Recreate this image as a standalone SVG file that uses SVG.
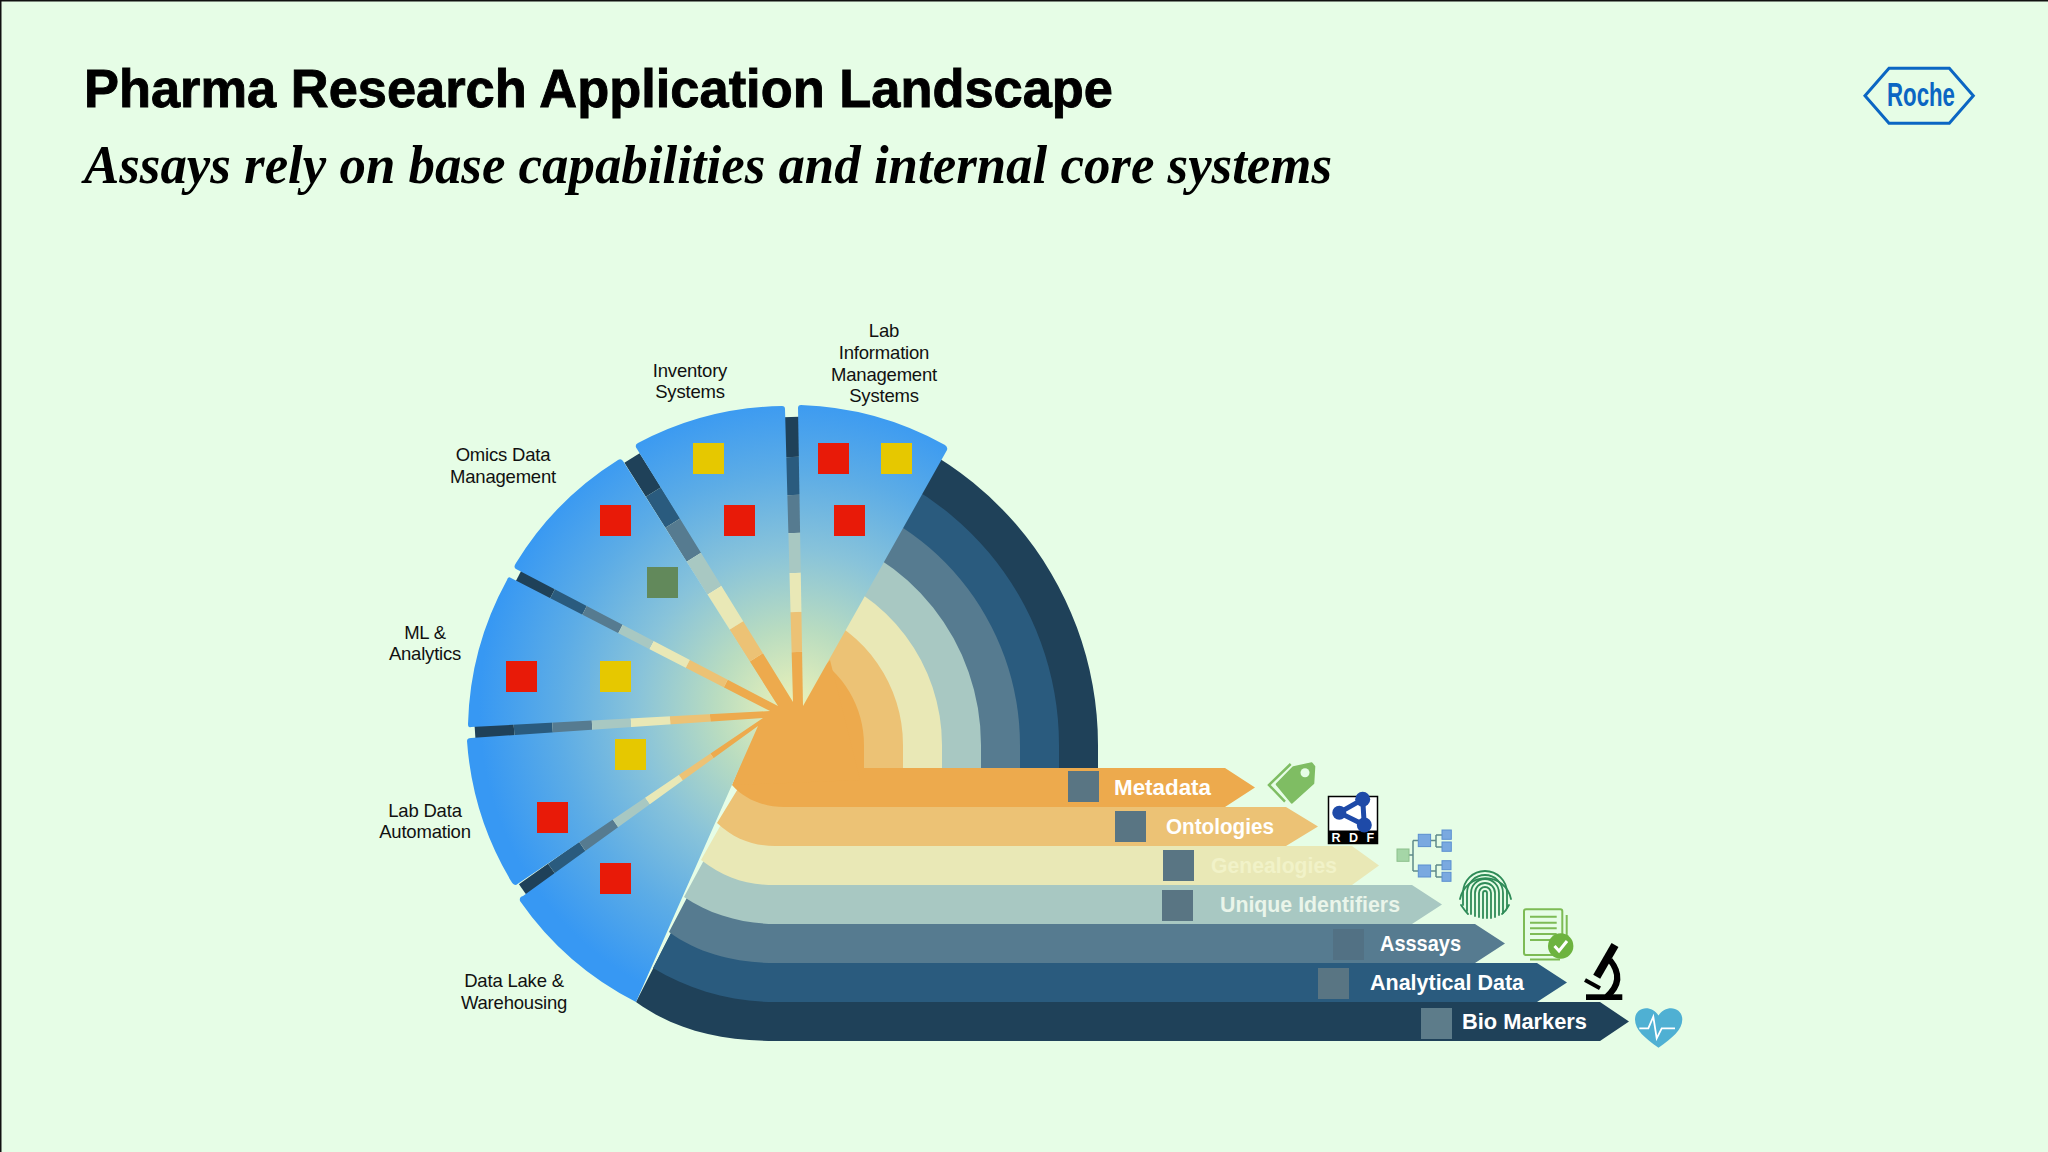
<svg xmlns="http://www.w3.org/2000/svg" width="2048" height="1152" viewBox="0 0 2048 1152">
<defs>
<radialGradient id="wg" gradientUnits="userSpaceOnUse" cx="795" cy="708" r="316">
<stop offset="0" stop-color="#eef3b8"/><stop offset="0.25" stop-color="#b9dcc0"/><stop offset="0.5" stop-color="#88c3da"/><stop offset="0.75" stop-color="#5cace6"/><stop offset="1" stop-color="#3798f3"/>
</radialGradient>
</defs>
<style>
.w{fill:url(#wg)}
.r{fill:#e81a08}.y{fill:#e6c800}.g{fill:#62895b}.s{fill:#597583}
.l{font:18.5px "Liberation Sans",Arial,sans-serif;letter-spacing:-.2px;fill:#111;text-anchor:middle}
.b{font:bold 22px "Liberation Sans",Arial,sans-serif;fill:#fff}
.c1{fill:#1f4159}.c2{fill:#2a5b7e}.c3{fill:#567b90}.c4{fill:#a8c8c2}.c5{fill:#e9e8b6}.c6{fill:#ecc275}.c7{fill:#edaa4d}
.k1{stroke:#1f4159}.k2{stroke:#2a5b7e}.k3{stroke:#567b90}.k4{stroke:#a8c8c2}.k5{stroke:#e9e8b6}.k6{stroke:#ecc275}.k7{stroke:#edaa4d}
</style>
<rect width="2048" height="1152" fill="#e6fde6"/>
<path d="M0.75 1152V0.75H2048" fill="none" stroke="#111" stroke-width="1.5"/>
<text x="84" y="107" font-family="Liberation Sans,Arial,sans-serif" font-weight="700" font-size="53" fill="#000" stroke="#000" stroke-width="0.9" textLength="1029" lengthAdjust="spacingAndGlyphs">Pharma Research Application Landscape</text>
<text x="84" y="183" font-family="Liberation Serif,Times New Roman,serif" font-weight="700" font-style="italic" font-size="54" fill="#000" textLength="1248" lengthAdjust="spacingAndGlyphs">Assays rely on base capabilities and internal core systems</text>
<g id="roche-logo">
<path d="M1865 95.7L1889 68.3H1949.3L1973.3 95.7L1949.3 123.3H1889Z" fill="none" stroke="#0b66c3" stroke-width="3"/>
<text x="1887" y="106" font-family="Liberation Sans,Arial,sans-serif" font-weight="700" font-size="33" fill="#0b66c3" textLength="68" lengthAdjust="spacingAndGlyphs">Roche</text>
</g>
<g id="connectors">
<path class="c1" d="M810 410.700A338 338 0 0 1 1098 745V1002H1600L1629 1021.500L1600 1041H775C720 1041 675 1030 636 1002L780 720L806 700Z"/>
<path class="c2" d="M810 450.200A299 299 0 0 1 1059 745V963H1537L1567 982.500L1537 1002H775C730 1002 690 990 653 968L780 720L806 700Z"/>
<path class="c3" d="M810 489.900A260 260 0 0 1 1020 745V924H1475L1505 943.500L1475 963H775C740 963 700 955 669 932L780 720L806 700Z"/>
<path class="c4" d="M810 529.700A221 221 0 0 1 981 745V885H1412L1442 904.500L1412 924H775C745 924 710 915 684 897L780 720L806 700Z"/>
<path class="c5" d="M810 570A182 182 0 0 1 942 745V846H1352L1379 865.500L1352 885H775C745 885 725 878 701 860L780 720L806 700Z"/>
<path class="c6" d="M810 611A143 143 0 0 1 903 745V807H1286L1318 826.500L1286 846H775C755 846 735 840 717 823L780 720L806 700Z"/>
<path class="c7" d="M810 653.800A104 104 0 0 1 864 745V768H1225L1255 787.500L1225 807H784C765 807 745 800 732 785L758 720L806 700Z"/>
</g>
<g id="spokes" fill="none">
<g stroke-width="16"><path class="k1" d="M791 417L792 457"/><path class="k2" d="M792 457L793 495"/><path class="k3" d="M793 495L794 533"/><path class="k4" d="M794 533L795 573"/><path class="k5" d="M795 573L796 612"/><path class="k6" d="M796 612L797 652"/><path class="k7" d="M797 652L798 706"/></g>
<g stroke-width="18"><path class="k1" d="M632 458L653.400 492"/><path class="k2" d="M653.400 492L672.900 523"/><path class="k3" d="M672.900 523L694.200 557"/><path class="k4" d="M694.200 557L715 590"/><path class="k5" d="M715 590L737 625"/><path class="k6" d="M737 625L757 657"/><path class="k7" d="M757 657L786 703"/></g>
<g stroke-width="14"><path class="k1" d="M519 575L553 592.800"/><path class="k2" d="M553 592.800L585 609.500"/><path class="k3" d="M585 609.500L621 628"/><path class="k4" d="M621 628L652 644.600"/><path class="k5" d="M652 644.600L688 663.400"/><path class="k6" d="M688 663.400L726 683"/><path class="k7" d="M726 683L775 709"/></g>
<g stroke-width="14"><path class="k1" d="M475 732L514 729.300"/><path class="k2" d="M514 729.300L552.500 726.700"/><path class="k3" d="M552.500 726.700L592 724"/><path class="k4" d="M592 724L631 721.300"/><path class="k5" d="M631 721.300L670 718.600"/><path class="k6" d="M670 718.600L710 716"/><path class="k7" d="M710 716L768 712"/></g>
<g stroke-width="14"><path class="k1" d="M523 890L552 869.400"/><path class="k2" d="M552 869.400L583 847.500"/><path class="k3" d="M583 847.500L616 824"/><path class="k4" d="M616 824L648 801.400"/><path class="k5" d="M648 801.400L681 778"/><path class="k6" d="M681 778L712 756"/><path class="k7" d="M712 756L760 722"/></g>
<path class="c7" d="M830 660L800 695L770 700L755 725L735 785L860 780Z"/>
</g>
<g id="lab-information-management-systems">
<path class="w" d="M803 706L798 408Q798 405 801 405A318 318 0 0 1 945 445Q948 447 947 450Z"/>
<rect class="r" x="818" y="443" width="31" height="31"/><rect class="y" x="881" y="443" width="31" height="31"/><rect class="r" x="834" y="505" width="31" height="31"/>
<text class="l"><tspan x="884" y="337">Lab</tspan><tspan x="884" y="359">Information</tspan><tspan x="884" y="381">Management</tspan><tspan x="884" y="402">Systems</tspan></text>
</g>
<g id="inventory-systems">
<path class="w" d="M793 702L785 409Q785 406 782 406A316 316 0 0 0 638 443Q634 445 637 449Z"/>
<rect class="y" x="693" y="443" width="31" height="31"/><rect class="r" x="724" y="505" width="31" height="31"/>
<text class="l"><tspan x="690" y="377">Inventory</tspan><tspan x="690" y="398">Systems</tspan></text>
</g>
<g id="omics-data-management">
<path class="w" d="M778 706L623 461Q621 458 618 460A316 316 0 0 0 516 563Q513 567 516 569Z"/>
<rect class="r" x="600" y="505" width="31" height="31"/><rect class="g" x="647" y="567" width="31" height="31"/>
<text class="l"><tspan x="503" y="461">Omics Data</tspan><tspan x="503" y="483">Management</tspan></text>
</g>
<g id="ml-analytics">
<path class="w" d="M770 711L511 578Q508 576 507 580A316 316 0 0 0 468 724Q468 728 471 727Z"/>
<rect class="r" x="506" y="661" width="31" height="31"/><rect class="y" x="600" y="661" width="31" height="31"/>
<text class="l"><tspan x="425" y="639">ML &amp;</tspan><tspan x="425" y="660">Analytics</tspan></text>
</g>
<g id="lab-data-automation">
<path class="w" d="M763 718L471 738Q467 738 467 741A316 316 0 0 0 511 881Q513 885 516 885Z"/>
<rect class="y" x="615" y="739" width="31" height="31"/><rect class="r" x="537" y="802" width="31" height="31"/>
<text class="l"><tspan x="425" y="817">Lab Data</tspan><tspan x="425" y="838">Automation</tspan></text>
</g>
<g id="data-lake-warehousing">
<path class="w" d="M758 726L523 896Q519 897 520 901A316 316 0 0 0 636 1002Z"/>
<rect class="r" x="600" y="863" width="31" height="31"/>
<text class="l"><tspan x="514" y="987">Data Lake &amp;</tspan><tspan x="514" y="1009">Warehousing</tspan></text>
</g>
<g id="metadata"><rect class="s" x="1068" y="771" width="31" height="31"/><text class="b" x="1114" y="795" textLength="97" lengthAdjust="spacingAndGlyphs">Metadata</text>
<path d="M1276.700 784.300L1293.300 767.300L1311.700 763.300L1314.300 766.700L1313.300 783.300L1291.700 802.700Z" fill="#7fbd63" stroke="#7fbd63" stroke-linejoin="round" stroke-width="2"/><circle cx="1305" cy="772.700" r="4.500" fill="#e6fde6"/>
<path d="M1290.700 764L1269 785L1285 801.700" fill="none" stroke="#7fbd63" stroke-width="2.500"/></g>
<g id="ontologies"><rect class="s" x="1115" y="811" width="31" height="31"/><text class="b" x="1166" y="834" textLength="108" lengthAdjust="spacingAndGlyphs">Ontologies</text>
<rect x="1328.500" y="796.500" width="49" height="47" fill="#fff" stroke="#000" stroke-width="1.500"/><rect x="1328" y="830.500" width="50" height="13.500" fill="#000"/>
<path d="M1339.300 812.700L1362.700 799.300L1364.300 825Z" fill="none" stroke="#1e4aa8" stroke-width="5"/>
<circle cx="1339.300" cy="812.700" r="7" fill="#1e4aa8"/><circle cx="1362.700" cy="799.300" r="7.500" fill="#1e4aa8"/><circle cx="1364.300" cy="825" r="7.500" fill="#1e4aa8"/>
<text x="1354" y="842" font-family="Liberation Sans,Arial,sans-serif" font-weight="700" font-size="12.500" fill="#fff" text-anchor="middle" letter-spacing="2.500">R D F</text></g>
<g id="genealogies"><rect class="s" x="1163" y="850" width="31" height="31"/><text class="b" x="1211" y="873" textLength="126" lengthAdjust="spacingAndGlyphs" style="fill:#f1f2c8">Genealogies</text>
<path d="M1409 855H1413M1413 840.500V871M1413 840.500H1418M1413 871H1418M1431 840.500H1436M1436 835V847M1436 835H1442M1436 847H1442M1431 871H1436M1436 865V877M1436 865H1442M1436 877H1442" fill="none" stroke="#5f8a8a" stroke-width="1.500"/>
<rect x="1397" y="849" width="12" height="12.300" fill="#a5d6a7" stroke="#8cc08c"/>
<g fill="#7aa9e0" stroke="#5b8fd0"><rect x="1418.300" y="834.300" width="12.300" height="12.300"/><rect x="1418.300" y="865" width="12.300" height="12"/><rect x="1442" y="830" width="9.300" height="9.300"/><rect x="1442" y="842" width="9.300" height="9.300"/><rect x="1442" y="860.700" width="9" height="9"/><rect x="1442" y="872.300" width="9" height="9"/></g></g>
<g id="unique-identifiers"><rect class="s" x="1162" y="890" width="31" height="31"/><text class="b" x="1220" y="912" textLength="180" lengthAdjust="spacingAndGlyphs" style="fill:#eaf5ea">Unique Identifiers</text>
<g fill="none" stroke="#2e8b57" stroke-width="1.800" stroke-linecap="round"><path d="M1460 899A26 26 0 0 1 1511 899"/><path d="M1463 905V893A22 22 0 0 1 1507 893V908"/><path d="M1467 911V893A18 18 0 0 1 1503 893V913"/><path d="M1471 914V893A14 14 0 0 1 1499 893V915"/><path d="M1475 916V893A10 10 0 0 1 1495 893V917"/><path d="M1479 917V893A6 6 0 0 1 1491 893V918"/><path d="M1483 918V893A2 2 0 0 1 1487 893V918"/><path d="M1461 905Q1465 911 1468 914M1509 905Q1506 911 1502 914"/></g></g>
<g id="assays"><rect class="s" x="1333" y="929" width="31" height="31" style="fill:#527184"/><text class="b" x="1380" y="951" textLength="81" lengthAdjust="spacingAndGlyphs">Asssays</text>
<g fill="none" stroke="#7dbb55" stroke-width="2"><rect x="1524" y="909.300" width="38.300" height="45.700" rx="2"/><path d="M1566.700 915V940M1530 959.500H1560"/><path d="M1530 916.700H1556.700M1530 922.700H1556.700M1530 928.300H1556.700M1530 934H1556.700M1530 940H1550"/></g>
<circle cx="1560.700" cy="946" r="12.700" fill="#6db33f"/><path d="M1554.500 946L1559 951L1567 941" fill="none" stroke="#fff" stroke-width="3"/></g>
<g id="analytical-data"><rect class="s" x="1318" y="968" width="31" height="31"/><text class="b" x="1370" y="990" textLength="154" lengthAdjust="spacingAndGlyphs">Analytical Data</text>
<rect x="1586" y="994.300" width="36.300" height="5.700"/><path d="M1615 945L1596.700 976.700" stroke="#000" stroke-width="8" fill="none"/><path d="M1610 960Q1626 980 1606.700 996.700" stroke="#000" stroke-width="6" fill="none"/><path d="M1585 980L1600 988.300" stroke="#000" stroke-width="4" fill="none"/></g>
<g id="bio-markers"><rect class="s" x="1421" y="1008" width="31" height="31" style="fill:#5d7c8a"/><text class="b" x="1462" y="1029" textLength="125" lengthAdjust="spacingAndGlyphs">Bio Markers</text>
<path d="M1658.500 1047.700C1645 1038 1635 1030 1635 1019.500C1635 1007 1651 1004 1658.500 1015.500C1666 1004 1682.300 1007 1682.300 1019.500C1682.300 1030 1672 1038 1658.500 1047.700Z" fill="#4fb0d3"/>
<path d="M1639.300 1028.300H1648.300L1653.300 1016.700L1656.700 1038.300L1661.700 1028.300H1675" fill="none" stroke="#fff" stroke-width="1.800"/></g>
</svg>
